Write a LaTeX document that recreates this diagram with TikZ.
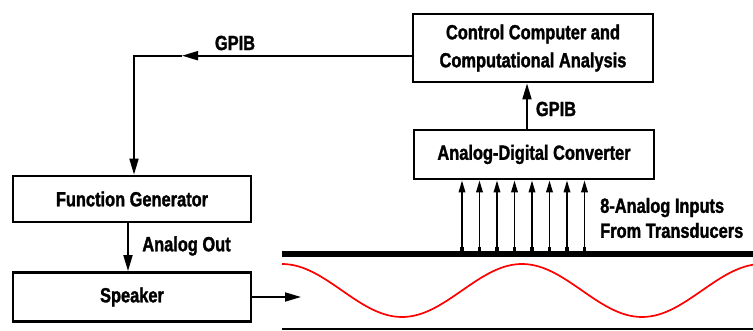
\documentclass[tikz,border=0pt]{standalone}
\usepackage{fontspec}
\setmainfont{Liberation Sans}[FakeStretch=0.8, BoldFeatures={FakeBold=1.5}]
\usetikzlibrary{arrows.meta}
\begin{document}
\begin{tikzpicture}[x=1pt,y=-1pt,
 box/.style={draw, line width=2.8pt, inner sep=0pt, align=center, font=\fontsize{20.5}{28}\selectfont\bfseries},
 lbl/.style={font=\fontsize{20.5}{25}\selectfont\bfseries, inner sep=0pt, align=left},
 arr/.style={line width=1.8pt, -{Triangle[length=16pt,width=9pt]}},
 sarr/.style={line width=1.8pt, -{Triangle[length=12pt,width=6.5pt]}},
 ln/.style={line width=1.8pt}]
\useasboundingbox (0,0) rectangle (753,331);
\node[box, minimum width=240pt, minimum height=68pt] (cc) at (533,48) {Control Computer and\\Computational Analysis};
\node[box, minimum width=240pt, minimum height=49pt] (adc) at (534,154.5) {Analog-Digital Converter};
\node[box, minimum width=238pt, minimum height=46pt] (fg) at (132,199) {Function Generator};
\node[box, minimum width=238pt, minimum height=49pt] (spk) at (132,297) {Speaker};
% GPIB to function generator
\coordinate (ccout) at (412,55.7);
\coordinate (mid) at (182,55.7);
\coordinate (corner) at (134,55.7);
\draw[arr] (ccout) -- (mid);
\draw[arr] (mid) -- (corner) -- (corner |- fg.north);
\node[lbl] (gpib1) at (235,43) {GPIB};
% ADC to CC
\draw[arr] (adc.north -| 527,0) -- (cc.south -| 527,0);
\node[lbl] (gpib2) at (556,109) {GPIB};
% FG to speaker
\draw[arr] (fg.south -| 128,0) -- (spk.north -| 128,0);
\node[lbl] (aout) at (186.5,246) {Analog Out};
% speaker to tube
\coordinate (sout) at (301,297);
\draw[arr] (spk.east |- sout) -- (sout);
% tube walls
\coordinate (barL) at (282,254);
\coordinate (barR) at (753,254);
\draw[line width=6pt] (barL) -- (barR);
\coordinate (botL) at (282,329);
\coordinate (botR) at (753,329);
\draw[line width=2.6pt] (botL) -- (botR);
% wave
\draw[red, line width=1.7pt] plot[domain=282:753, samples=120] (\x, {290.5-26.5*cos((\x-282)*1.5)});
% 8 inputs
\foreach \i in {0,...,7} {
  \node[fill, minimum width=3.8pt, minimum height=4pt, inner sep=0pt] (sq\i) at (462+17.5*\i, 249) {};
  \draw[sarr] (sq\i.north) -- (sq\i.north |- adc.south);
}
\node[lbl, anchor=west] (inputs) at (600,218) {8-Analog Inputs\\From Transducers};
\end{tikzpicture}
\end{document}
